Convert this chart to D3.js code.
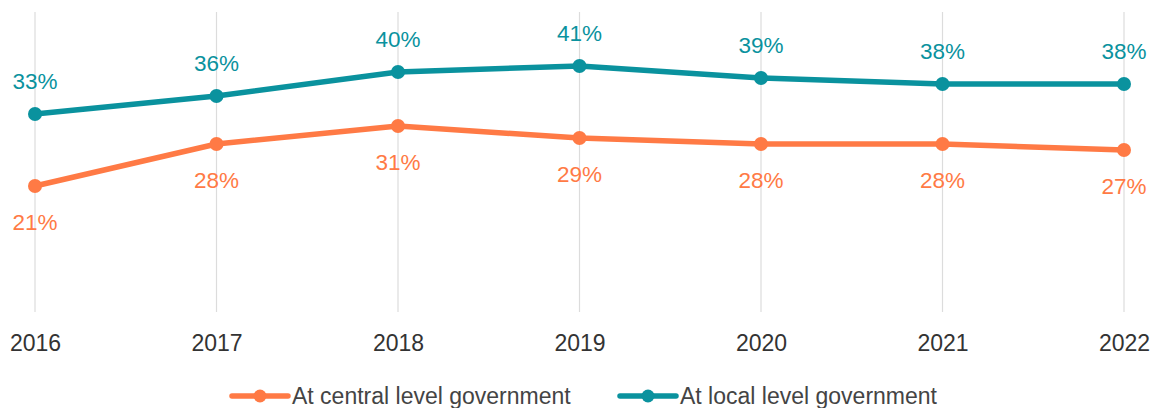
<!DOCTYPE html>
<html>
<head>
<meta charset="utf-8">
<script src="https://cdn.jsdelivr.net/npm/d3@7"></script>
<style>
  html, body { margin: 0; padding: 0; background: #ffffff; }
  svg { display: block; font-family: "Liberation Sans", Arial, sans-serif; }
</style>
</head>
<body>
<svg id="chart" width="1158" height="408"></svg>
<script>
// Share of respondents, by level of government
const years = ["2016", "2017", "2018", "2019", "2020", "2021", "2022"];
const centralValues = [21, 28, 31, 29, 28, 28, 27];
const localValues = [33, 36, 40, 41, 39, 38, 38];
const seriesNames = ["At central level government", "At local level government"];
const seriesColors = ["#FF7A45", "#0A929E"];

const svg = d3.select("#chart");

const x = d3.scalePoint().domain(years).range([35, 1124]);
const y = d3.scaleLinear().domain([0, 50]).range([312, 12]);

// vertical gridlines at each year
svg.append("g")
  .selectAll("line")
  .data(years)
  .join("line")
  .attr("x1", d => x(d)).attr("x2", d => x(d))
  .attr("y1", y(50)).attr("y2", y(0))
  .attr("stroke", "#dcdcdc")
  .attr("stroke-width", 1.2);

// year axis labels
const xAxis = d3.axisBottom(x).tickSize(0).tickPadding(0);
const gx = svg.append("g").attr("transform", "translate(0,334)").call(xAxis);
gx.select(".domain").remove();
gx.selectAll("text")
  .attr("dy", "0.72em")
  .attr("font-size", 23)
  .attr("font-family", "'Liberation Sans', Arial, sans-serif")
  .attr("fill", "#333333");

const series = [
  { name: seriesNames[0], values: centralValues, color: seriesColors[0], labelDy: 44 },
  { name: seriesNames[1], values: localValues, color: seriesColors[1], labelDy: -25 }
];

const line = d3.line()
  .x((d, i) => x(years[i]))
  .y(d => y(d));

series.forEach(s => {
  const g = svg.append("g");
  g.append("path")
    .datum(s.values)
    .attr("d", line)
    .attr("fill", "none")
    .attr("stroke", s.color)
    .attr("stroke-width", 5.5)
    .attr("stroke-linejoin", "round");
  g.selectAll("circle")
    .data(s.values)
    .join("circle")
    .attr("cx", (d, i) => x(years[i]))
    .attr("cy", d => y(d))
    .attr("r", 7)
    .attr("fill", s.color);
  g.selectAll("text")
    .data(s.values)
    .join("text")
    .attr("x", (d, i) => x(years[i]))
    .attr("y", d => y(d) + s.labelDy)
    .attr("text-anchor", "middle")
    .attr("font-size", 22.5)
    .attr("fill", s.color)
    .text(d => d + "%");
});

// legend
const legendItems = [
  { name: seriesNames[0], color: seriesColors[0], x: 232 },
  { name: seriesNames[1], color: seriesColors[1], x: 620 }
];
const lg = svg.append("g");
legendItems.forEach(item => {
  lg.append("line")
    .attr("x1", item.x).attr("x2", item.x + 56)
    .attr("y1", 396).attr("y2", 396)
    .attr("stroke", item.color)
    .attr("stroke-width", 5.5)
    .attr("stroke-linecap", "round");
  lg.append("circle")
    .attr("cx", item.x + 28).attr("cy", 396).attr("r", 6.5)
    .attr("fill", item.color);
  lg.append("text")
    .attr("x", item.x + 60).attr("y", 404)
    .attr("font-size", 23)
    .attr("fill", "#444444")
    .text(item.name);
});
</script>
</body>
</html>
